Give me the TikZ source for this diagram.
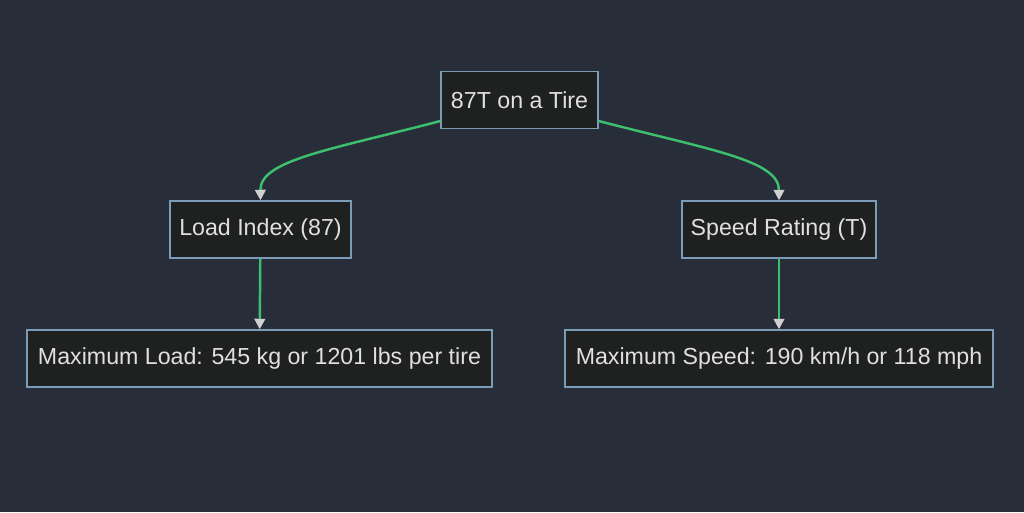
\documentclass[tikz,border=0pt]{standalone}
\usepackage{fontspec}
\setmainfont{Liberation Sans}
\usetikzlibrary{arrows.meta}
\definecolor{bgcol}{HTML}{282D3A}
\definecolor{boxfill}{HTML}{1F2020}
\definecolor{boxline}{HTML}{7B9CB8}
\definecolor{linkcol}{HTML}{3CC06E}
\definecolor{tipcol}{HTML}{D0D0D0}
\definecolor{txtcol}{HTML}{E0E0E0}

\begin{document}
\begin{tikzpicture}[x=0.02cm,y=-0.02cm]

    \tikzset{caja/.style = {shape=rectangle,draw=boxline,fill=boxfill,line width=0.8pt,text=txtcol,minimum height=57*0.02cm,font=\fontsize{13.2}{15}\selectfont}}
    \tikzset{flecha/.style = {draw=linkcol,line width=1.4pt,-{Triangle[length=6pt,width=6pt,color=tipcol,fill=tipcol]}}}

    \fill [bgcol] (0,0) rectangle (1024,512);

    \node [caja,minimum width=157*0.02cm] (llanta) at (519.5,100) {87T on a Tire};
    \node [caja,minimum width=181*0.02cm] (carga) at (260.5,229.5) {Load Index (87)};
    \node [caja,minimum width=194*0.02cm] (velocidad) at (779,229.5) {Speed Rating (T)};
    \node [caja,minimum width=465*0.02cm] (cargamax) at (259.5,358.5) {Maximum Load: 545 kg or 1201 lbs per tire};
    \node [caja,minimum width=428*0.02cm] (velmax) at (779,358.5) {Maximum Speed: 190 km/h or 118 mph};

    %curvas desde el nodo de arriba
    \draw [flecha] (llanta.west |- 0,121)
        .. controls (330,150) and (260,160) .. (carga.north);
    \draw [flecha] (llanta.east |- 0,121)
        .. controls (710,150) and (779,160) .. (velocidad.north);

    \draw [flecha] (carga) -- (cargamax);
    \draw [flecha] (velocidad) -- (velmax);

\end{tikzpicture}
\end{document}
